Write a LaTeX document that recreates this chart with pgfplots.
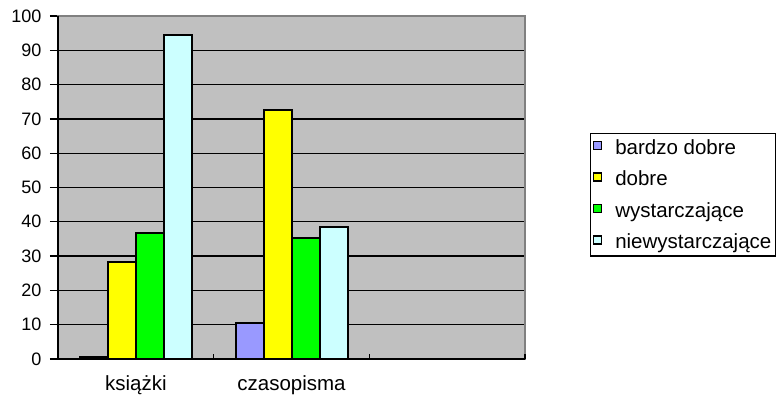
\documentclass[border=0pt]{standalone}
\usepackage{pgfplots}
\pgfplotsset{compat=1.18}
\usepackage{fontspec}
\setmainfont{Liberation Sans}
\definecolor{plotbg}{HTML}{C0C0C0}
\definecolor{cA}{HTML}{9999FF}
\definecolor{cB}{HTML}{FFFF00}
\definecolor{cC}{HTML}{00FF00}
\definecolor{cD}{HTML}{CCFFFF}
\definecolor{frame}{HTML}{808080}
\pgfplotsset{mybar/.style={draw=black, line width=2pt, fill=#1,
  legend image code/.code={\draw[fill=#1,draw=black,line width=1.4pt] (0pt,-2pt) rectangle (8pt,6pt); \path (19pt,0pt);}}}
\begin{document}
\begin{tikzpicture}[x=1pt,y=1pt]
\useasboundingbox (-58,-43) rectangle (720,359);
\begin{axis}[
  at={(0,0)}, anchor=south west,
  scale only axis, width=467pt, height=343pt,
  xmin=-0.5, xmax=2.5, ymin=0, ymax=100,
  axis background/.style={fill=plotbg},
  axis line style={draw=frame, line width=1.5pt},
  ybar=0pt, bar width=28pt,
  ytick={0,10,...,100},
  xtick={0,1}, xticklabels={{książki}, {czasopisma}},
  major x tick style={draw=none},
  ytick pos=left, xtick pos=bottom,
  tick align=outside,
  major tick length=8pt,
  ytick style={black, line width=1.3pt},
  ymajorgrids, major grid style={black, line width=1.3pt},
  /pgf/number format/assume math mode=true,
  yticklabel style={font=\fontsize{18}{20}\selectfont, xshift=-5pt},
  xticklabel style={font=\fontsize{20.5}{24}\selectfont, yshift=-5pt},
  legend style={at={(1.139,0.659)}, anchor=north west, draw=black, line width=1.3pt,
    fill=white, font=\fontsize{20.5}{24}\selectfont, row sep=11pt, inner xsep=2pt, inner ysep=4pt,
    cells={anchor=west}},
  clip=false,
]
\addplot[mybar=cA] coordinates {(0,0.5) (1,10.4)};
\addplot[mybar=cB] coordinates {(0,28.3) (1,72.6)};
\addplot[mybar=cC] coordinates {(0,36.7) (1,35.2)};
\addplot[mybar=cD] coordinates {(0,94.5) (1,38.4)};
\legend{{bardzo dobre}, {dobre}, {wystarczające}, {niewystarczające}}
\draw[black, line width=1.8pt] (rel axis cs:0,1) -- (rel axis cs:0,0) -- (rel axis cs:1,0);
\pgfplotsinvokeforeach{0.5,1.5,2.5}{
  \draw[black, line width=1.3pt] (axis cs:#1,0) -- (axis cs:#1,1.5);
}
\end{axis}
\end{tikzpicture}
\end{document}
